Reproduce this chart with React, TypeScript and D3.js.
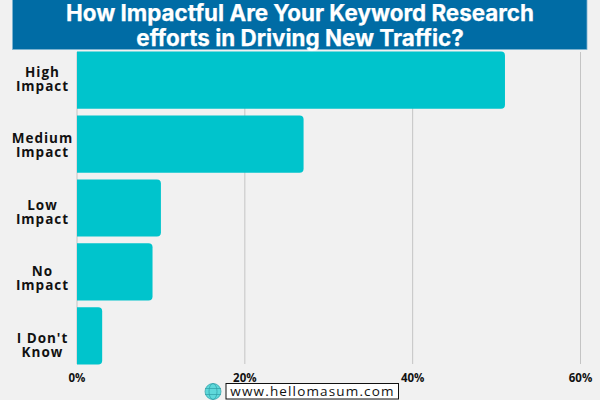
import * as d3 from 'd3';

const categories = ['High Impact', 'Medium Impact', 'Low Impact', 'No Impact', "I Don't Know"];
const values = [51, 27, 10, 9, 3];
const ticks = [0, 20, 40, 60];
const titleLines = ['How Impactful Are Your Keyword Research', 'efforts in Driving New Traffic?'];
const siteName = 'www.hellomasum.com';

const width = 600;
const height = 400;

// the row labels do not sit at the same spot inside each band
const labelNudge = [25.5, 27.6, 30.9, 32.4, 35.4];

const x = d3.scaleLinear().domain([0, 60]).range([77, 580.5]);
const y = d3.scaleBand().domain(categories).range([51.5, 364.5]).paddingInner(0.105).paddingOuter(0);

// square on the axis side, rounded on the value side
function barPath(x0: number, x1: number, y0: number, y1: number, r: number) {
  const path = d3.path();
  path.moveTo(x0, y0);
  path.lineTo(x1 - r, y0);
  path.quadraticCurveTo(x1, y0, x1, y0 + r);
  path.lineTo(x1, y1 - r);
  path.quadraticCurveTo(x1, y1, x1 - r, y1);
  path.lineTo(x0, y1);
  path.closePath();
  return path.toString();
}

export default function App() {
  return (
    <svg
      width={width}
      height={height}
      viewBox={`0 0 ${width} ${height}`}
      style={{ position: 'absolute', left: 0, top: 0, background: '#f1f1f1' }}
    >
      <rect x={12.5} y={-1} width={574.5} height={50.5} fill="#006ca5" stroke="#7fb5d2" strokeWidth={0.8} />
      {titleLines.map((line, i) => (
        <text
          key={line}
          x={300}
          y={21 + i * 24.5}
          textAnchor="middle"
          fill="#ffffff"
          stroke="#ffffff"
          strokeWidth={0.25}
          fontFamily="Inter"
          fontWeight={700}
          fontSize={22.4}
        >
          {line}
        </text>
      ))}

      {ticks.map((t) => (
        <g key={t}>
          <line x1={x(t)} x2={x(t)} y1={52} y2={364} stroke="#c4c4c4" strokeWidth={1} />
          <text
            x={x(t)}
            y={382}
            textAnchor="middle"
            fill="#111111"
            fontFamily="Open Sans"
            fontWeight={700}
            fontSize={11.5}
          >
            {t}%
          </text>
        </g>
      ))}

      {categories.map((c, i) => {
        const y0 = y(c) as number;
        const words = c === "I Don't Know" ? ["I Don't", 'Know'] : c.split(' ');
        return (
          <g key={c}>
            <path
              d={barPath(x(0), x(values[i]), y0, y0 + y.bandwidth(), 4)}
              fill="#00c4cc"
            />
            {words.map((w, j) => (
              <text
                key={w}
                x={42.5}
                y={y0 + labelNudge[i] + j * 14.2}
                textAnchor="middle"
                fill="#111111"
                fontFamily="Open Sans"
                fontWeight={700}
                fontSize={13.5}
                letterSpacing={1}
              >
                {w}
              </text>
            ))}
          </g>
        );
      })}

      <g stroke="#2f9ea6" strokeWidth={0.7} fill="none">
        <circle cx={213} cy={391.5} r={8} fill="#5ed8da" />
        <ellipse cx={213} cy={391.5} rx={4} ry={8} />
        <line x1={205} x2={221} y1={388.5} y2={388.5} />
        <line x1={205} x2={221} y1={394.5} y2={394.5} />
      </g>
      <rect x={226} y={383.5} width={172.5} height={15.5} fill="#ffffff" stroke="#111111" strokeWidth={1} />
      <text
        x={312.5}
        y={396}
        textAnchor="middle"
        fill="#111111"
        fontFamily="Open Sans"
        fontWeight={500}
        fontSize={13.5}
        letterSpacing={1.15}
      >
        {siteName}
      </text>
    </svg>
  );
}
